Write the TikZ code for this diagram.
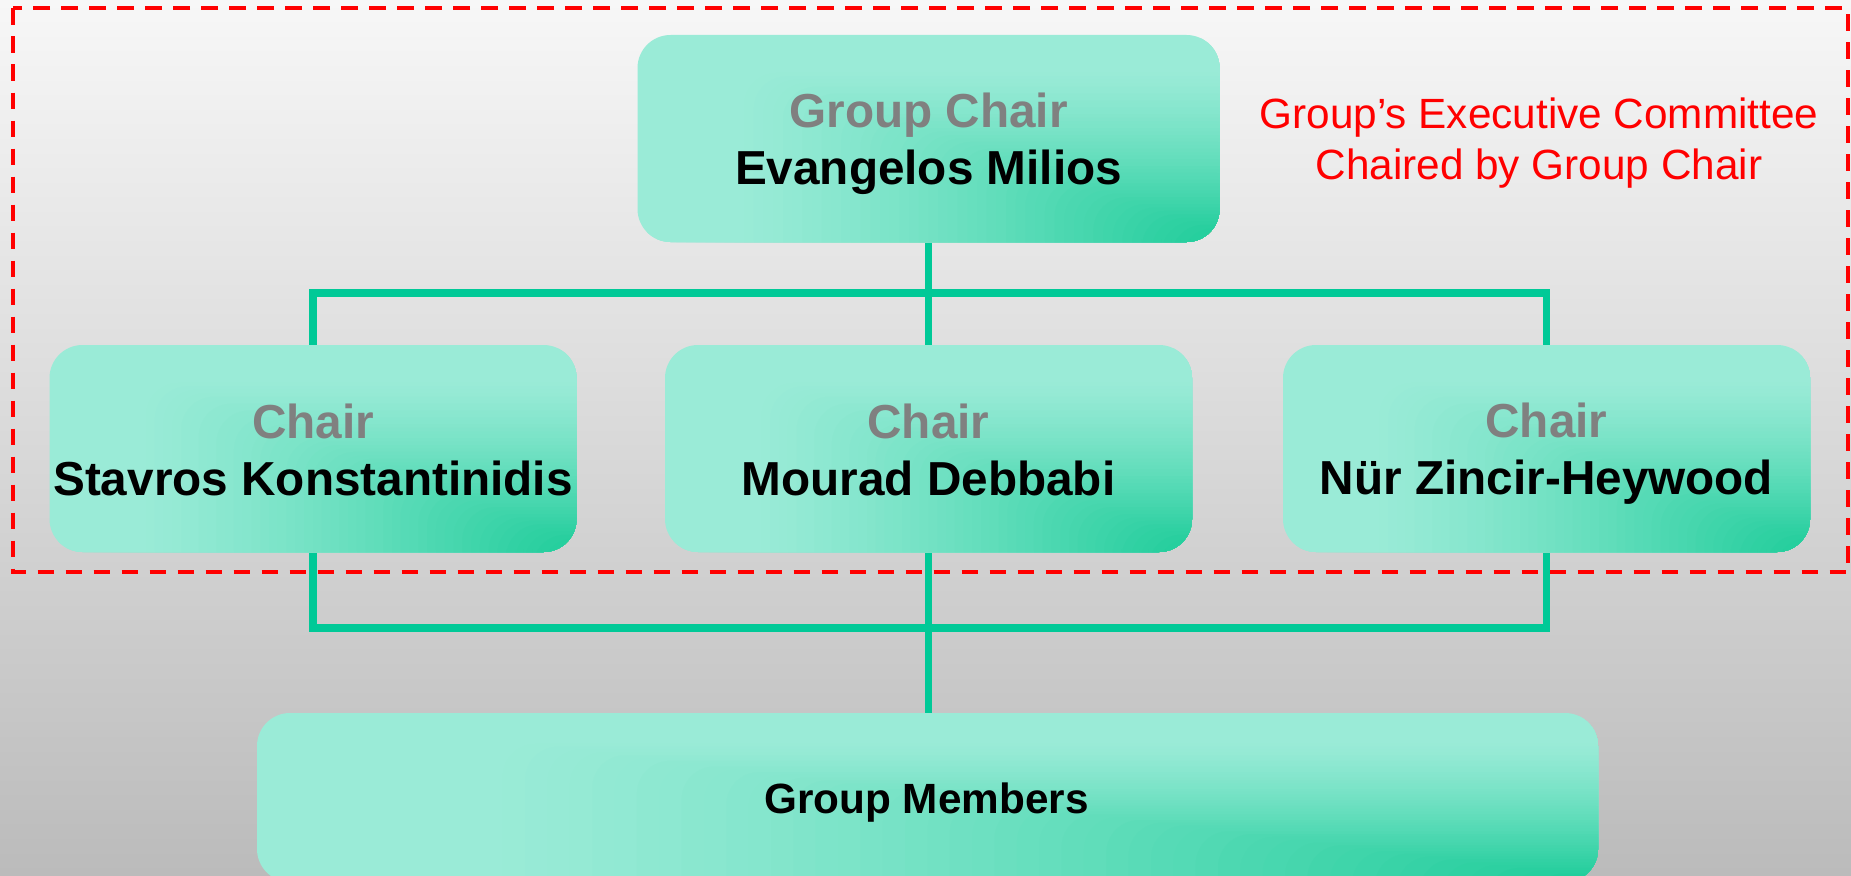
\documentclass[tikz,border=0pt]{standalone}
\usepackage{fontspec}
\setmainfont{Liberation Sans}
\usetikzlibrary{calc}
\definecolor{boxlt}{HTML}{9AEBD7}
\definecolor{boxdk}{HTML}{18CB97}
\definecolor{conncol}{HTML}{00C997}
\definecolor{txtgray}{HTML}{808080}
\definecolor{bgtop}{HTML}{F7F7F7}
\definecolor{bgbot}{HTML}{BBBBBB}
\definecolor{redline}{HTML}{FF0000}
\newcommand\fsBig{\fontsize{47.7pt}{57pt}\selectfont}
\newcommand\fsMed{\fontsize{42.3pt}{51pt}\selectfont}
\pgfdeclarelayer{bglayer}
\pgfsetlayers{bglayer,main}
\tikzset{
  gbox/.style={rounded corners=33pt, inner sep=0pt, draw=none,
    path picture={
      \foreach \i in {0,...,59}{
        \pgfmathsetmacro\gfrac{1-\i/60}
        \pgfmathtruncatemacro\gdk{100*pow(max(0.0001,1-\gfrac/0.85),1.3)}
        \fill[boxdk!\gdk!boxlt] ([shift={(30pt,-30pt)}]path picture bounding box.south east) rectangle
          ($(path picture bounding box.south east)!\gfrac!(path picture bounding box.north west)$);
      }}},
  chairbox/.style={gbox, minimum width=527pt, minimum height=207pt},
  conn/.style={draw=conncol, line width=7.7pt, line join=miter},
  roletext/.style={inner sep=0pt, anchor=base, font=\fsBig\bfseries, text=txtgray},
  nametext/.style={inner sep=0pt, anchor=base, font=\fsBig\bfseries, text=black},
  notetext/.style={inner sep=0pt, anchor=base, font=\fsMed, text=redline},
  dashbox/.style={draw=redline, line width=4pt, dash pattern=on 16.7pt off 11.3pt},
}
\begin{document}
\begin{tikzpicture}[x=1pt,y=-1pt]
\useasboundingbox (0,0) rectangle (1851,875);
\begin{pgfonlayer}{bglayer}
  \shade[top color=bgtop, bottom color=bgbot] (0,0) rectangle (1851,875);
  \draw[dashbox] (13,8.5) rectangle (1848,572);
\end{pgfonlayer}

% boxes
\node[gbox, minimum width=582pt, minimum height=207pt] (gc) at (928.5,138.5) {};
\node[chairbox] (c1) at (313,448.5) {};
\node[chairbox] (c2) at (928.5,448.5) {};
\node[chairbox] (c3) at (1546.5,448.5) {};
\node[gbox, minimum width=1341pt, minimum height=169pt] (mem) at (927.5,797.5) {};

% texts
\node[roletext] (gcrole) at (928.5,127) {Group Chair};
\node[nametext] (gcname) at (928.5,184) {Evangelos Milios};
\node[roletext] (c1role) at (313,438) {Chair};
\node[nametext] (c1name) at (313,495) {Stavros Konstantinidis};
\node[roletext] (c2role) at (928.5,438) {Chair};
\node[nametext] (c2name) at (928.5,495) {Mourad Debbabi};
\node[roletext] (c3role) at (1546.5,437.5) {Chair};
\node[nametext] (c3name) at (1546.5,494.5) {Nür Zincir-Heywood};
\node[inner sep=0pt, anchor=base, font=\fsMed\bfseries] (memtext) at (926.5,813) {Group Members};
\node[notetext] (note1) at (1539,128) {Group’s Executive Committee};
\node[notetext] (note2) at (1539,179) {Chaired by Group Chair};

% connectors
\coordinate (upbus) at (928.5,293);
\coordinate (lowbus) at (928.5,628);
\begin{pgfonlayer}{bglayer}
  \draw[conn] (gc.south) -- (c2.north);
  \draw[conn] (c1.north) |- (upbus) -| (c3.north);
  \draw[conn] (c1.south) |- (lowbus) -| (c3.south);
  \draw[conn] (c2.south) -- (c2.south |- mem.north);
\end{pgfonlayer}
\end{tikzpicture}
\end{document}
